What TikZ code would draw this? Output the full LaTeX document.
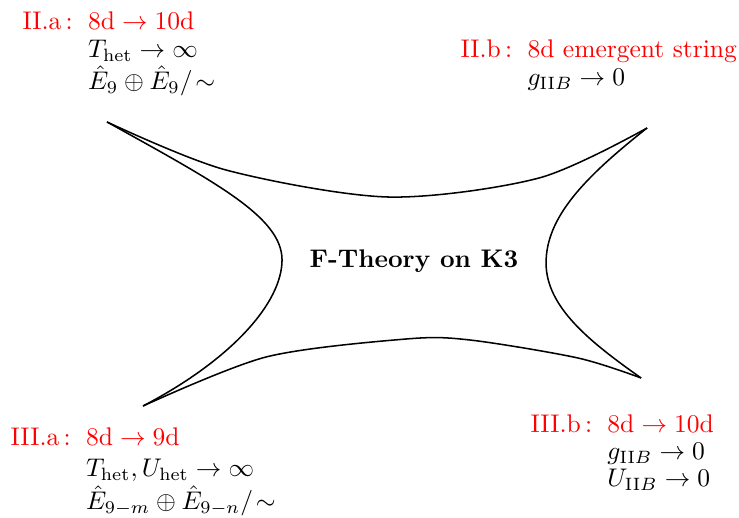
\documentclass[tikz,border=0pt]{standalone}
\usepackage{amsmath,amssymb}
\usepackage{tikz}

\begin{document}
\begin{tikzpicture}[scale=1.378,
    lbl/.style={anchor=north west, inner sep=0pt},
    rim/.style={semithick}]
    \useasboundingbox (0,0) rectangle (7.39,5.17);
    \coordinate (tl) at (1.07,3.95);
    \coordinate (tr) at (6.47,3.89);
    \coordinate (bl) at (1.43,1.11);
    \coordinate (br) at (6.41,1.39);
    \coordinate (lw) at (2.82,2.57);
    \coordinate (re) at (5.46,2.54);

    \draw[rim] plot[smooth] coordinates {(tl) (2.26,3.47) (3.88,3.20) (5.39,3.39) (tr)};
    \draw[rim] plot[smooth] coordinates {(bl) (2.66,1.60) (4.06,1.78) (4.70,1.77) (5.78,1.59) (br)};
    \draw[rim] (tl) .. controls (2.15,3.35) and (2.82,3.00) .. (lw)
                    .. controls (2.82,2.15) and (2.33,1.58) .. (bl);
    \draw[rim] (tr) .. controls (5.85,3.40) and (5.46,3.00) .. (re)
                    .. controls (5.46,2.10) and (5.90,1.75) .. (br);

    \node[font=\bfseries] (k3) at (4.14,2.56) {F-Theory on K3};

    \node[lbl] (IIa) at (0.22,5.08) {\renewcommand{\arraystretch}{0.92}$\begin{array}{@{}r@{\hspace{6pt}}l@{}}
        \textcolor{red}{\text{II.a}\,\text{:}} & \textcolor{red}{\text{8d}\to\text{10d}}\\
        & T_{\text{het}}\to\infty\\
        & \hat{E}_9\oplus\hat{E}_9/\!\sim
    \end{array}$};
    \node[lbl] (IIb) at (4.60,4.79) {\renewcommand{\arraystretch}{0.9}$\begin{array}{@{}r@{\hspace{6pt}}l@{}}
        \textcolor{red}{\text{II.b}\,\text{:}} & \textcolor{red}{\text{8d emergent string}}\\
        & g_{\text{II}B}\to 0
    \end{array}$};
    \node[lbl] (IIIa) at (0.10,0.93) {$\begin{array}{@{}r@{\hspace{6pt}}l@{}}
        \textcolor{red}{\text{III.a}\,\text{:}} & \textcolor{red}{\text{8d}\to\text{9d}}\\
        & T_{\text{het}},U_{\text{het}}\to\infty\\
        & \hat{E}_{9-m}\oplus\hat{E}_{9-n}/\!\sim
    \end{array}$};
    \node[lbl] (IIIb) at (5.30,1.035) {\renewcommand{\arraystretch}{0.88}$\begin{array}{@{}r@{\hspace{6pt}}l@{}}
        \textcolor{red}{\text{III.b}\,\text{:}} & \textcolor{red}{\text{8d}\to\text{10d}}\\
        & g_{\text{II}B}\to 0\\
        & U_{\text{II}B}\to 0
    \end{array}$};
\end{tikzpicture}
\end{document}
